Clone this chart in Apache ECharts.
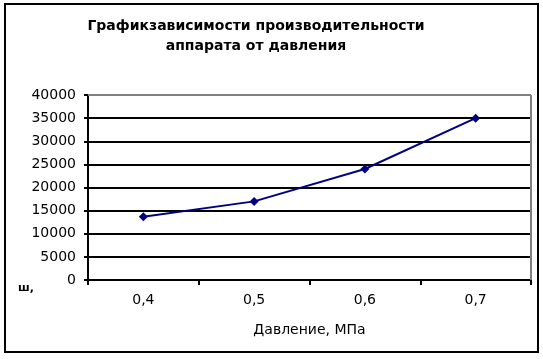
<!DOCTYPE html>
<html><head><meta charset="utf-8">
<script src="https://cdn.jsdelivr.net/npm/echarts@6/dist/echarts.min.js"></script>
<style>html,body{margin:0;padding:0;background:#fff}#c{width:543px;height:359px}</style>
</head><body><div id="c"></div>
<script>
const categories = ['0,4', '0,5', '0,6', '0,7'];
const productivity = [13700, 17000, 24000, 35000];
const titleLines = ['Графикзависимости производительности', 'аппарата от давления'];
const xAxisName = 'Давление, МПа';
const yMin = 0, yMax = 40000, yInterval = 5000;

const chart = echarts.init(document.getElementById('c'), null, {renderer: 'canvas'});
const font = 'DejaVu Sans';
chart.setOption({
  animation: false,
  backgroundColor: '#fff',
  title: {
    text: titleLines.join('\n'),
    left: 251, top: 11, textAlign: 'center',
    textStyle: {fontFamily: font, fontWeight: 'bold', fontSize: 14, color: '#000', lineHeight: 20}
  },
  graphic: [
    {type: 'rect', shape: {x: 5, y: 4, width: 533, height: 348}, style: {fill: null, stroke: '#000', lineWidth: 2}, z: 10},
    {type: 'line', shape: {x1: 88, y1: 95, x2: 531, y2: 95}, style: {stroke: '#808080', lineWidth: 2}, z: 5},
    {type: 'line', shape: {x1: 531, y1: 95, x2: 531, y2: 280}, style: {stroke: '#808080', lineWidth: 2}, z: 5},
    {type: 'text', left: 18, top: 283, style: {text: 'ш,', font: 'bold 11px ' + font, fill: '#000'}}
  ],
  grid: {left: 88, top: 95, right: 12, bottom: 79},
  xAxis: {
    type: 'category', data: categories, boundaryGap: true,
    name: xAxisName, nameLocation: 'middle', nameGap: 43,
    nameTextStyle: {fontFamily: font, fontSize: 14, color: '#000'},
    axisLine: {lineStyle: {color: '#000', width: 2}},
    axisTick: {show: true, alignWithLabel: false, length: 5, inside: false, lineStyle: {color: '#000', width: 2}},
    axisLabel: {fontFamily: font, fontSize: 14, color: '#000', margin: 13}
  },
  yAxis: {
    type: 'value', min: yMin, max: yMax, interval: yInterval,
    axisLine: {show: true, lineStyle: {color: '#000', width: 2}},
    axisTick: {show: true, length: 4, lineStyle: {color: '#000', width: 2}},
    axisLabel: {fontFamily: font, fontSize: 14, color: '#000', margin: 12, formatter: v => String(v)},
    splitLine: {show: true, lineStyle: {color: '#000', width: 2}}
  },
  series: [{
    type: 'line', data: productivity,
    symbol: 'diamond', symbolSize: 9,
    lineStyle: {color: '#000080', width: 2},
    itemStyle: {color: '#000080'}
  }]
});
</script></body></html>
